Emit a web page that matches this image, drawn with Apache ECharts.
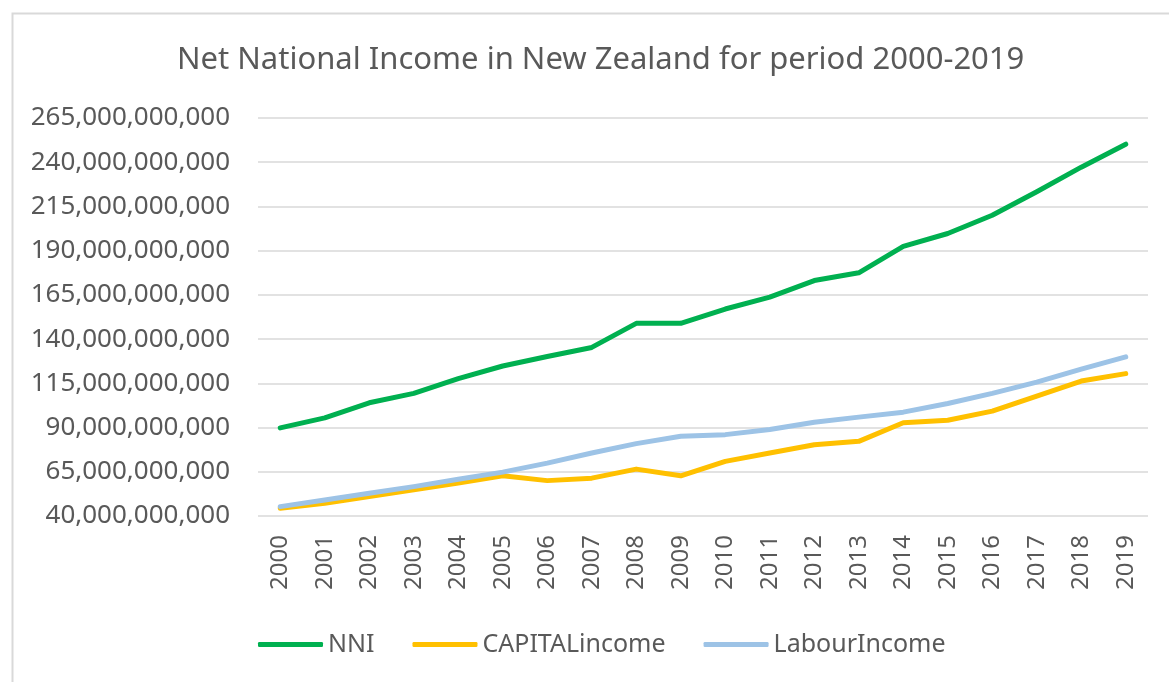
<!DOCTYPE html>
<html>
<head>
<meta charset="utf-8">
<script src="https://cdn.jsdelivr.net/npm/echarts@6/dist/echarts.min.js"></script>
<style>
html,body{margin:0;padding:0;background:#fff;}
#c{width:1169px;height:682px;}
</style>
</head>
<body>
<div id="c"></div>
<script>
var years = ['2000','2001','2002','2003','2004','2005','2006','2007','2008','2009','2010','2011','2012','2013','2014','2015','2016','2017','2018','2019'];
var nni = [89.8e9, 95.5e9, 104e9, 109.3e9, 117.7e9, 124.8e9, 130.2e9, 135.3e9, 148.9e9, 148.9e9, 157e9, 163.7e9, 173.1e9, 177.5e9, 192.4e9, 199.7e9, 210e9, 223.3e9, 237.2e9, 250.2e9];
var capitalIncome = [44.4e9, 47.2e9, 51e9, 54.8e9, 58.6e9, 62.7e9, 60e9, 61.4e9, 66.5e9, 62.7e9, 70.9e9, 75.6e9, 80.3e9, 82.2e9, 92.7e9, 94.1e9, 99.3e9, 107.8e9, 116.3e9, 120.5e9];
var labourIncome = [45.3e9, 49.1e9, 52.9e9, 56.6e9, 60.8e9, 64.8e9, 69.9e9, 75.6e9, 80.9e9, 85.1e9, 86e9, 88.9e9, 93e9, 95.9e9, 98.7e9, 103.6e9, 109.3e9, 115.7e9, 123e9, 130e9];
var seriesNames = ['NNI', 'CAPITALincome', 'LabourIncome'];
var yMin = 40e9, yMax = 265e9, yStep = 25e9;

var FONT = '"Noto Sans", sans-serif';
var TXT = '#595959';
var chart = echarts.init(document.getElementById('c'), null, {renderer: 'canvas'});
function mk(name, data, color) {
  return {
    name: name, type: 'line', data: data, symbol: 'none', smooth: false,
    lineStyle: {color: color, width: 5, cap: 'round', join: 'round'},
    itemStyle: {color: color},
    emphasis: {disabled: true}
  };
}
chart.setOption({
  animation: false,
  backgroundColor: '#fff',
  graphic: [{
    type: 'rect', left: 10, top: 11, silent: true,
    shape: {width: 1200, height: 720},
    style: {fill: 'none', stroke: '#d9d9d9', lineWidth: 2}
  }],
  title: {
    text: 'Net National Income in New Zealand for period 2000-2019',
    left: 172, top: 40,
    textStyle: {fontFamily: FONT, fontSize: 31, fontWeight: 'normal', color: TXT}
  },
  legend: {
    left: 253, top: 627,
    icon: 'roundRect', itemWidth: 65, itemHeight: 5, itemGap: 38,
    data: seriesNames,
    textStyle: {fontFamily: FONT, fontSize: 25, color: TXT}
  },
  grid: {left: 258, right: 21, top: 118, bottom: 166, containLabel: false},
  xAxis: {
    type: 'category', data: years, boundaryGap: true,
    axisLine: {show: false}, axisTick: {show: false},
    axisLabel: {rotate: 90, margin: 19, fontFamily: FONT, fontSize: 24, color: TXT}
  },
  yAxis: {
    type: 'value', min: yMin, max: yMax, interval: yStep,
    axisLine: {show: false}, axisTick: {show: false},
    splitLine: {lineStyle: {color: '#d9d9d9', width: 1.5}},
    axisLabel: {
      margin: 28, fontFamily: FONT, fontSize: 26, color: TXT,
      formatter: function (v) { return Math.round(v).toLocaleString('en-US'); }
    }
  },
  series: [
    mk(seriesNames[0], nni, '#00B050'),
    mk(seriesNames[1], capitalIncome, '#FFC000'),
    mk(seriesNames[2], labourIncome, '#9DC3E6')
  ]
});
</script>
</body>
</html>
